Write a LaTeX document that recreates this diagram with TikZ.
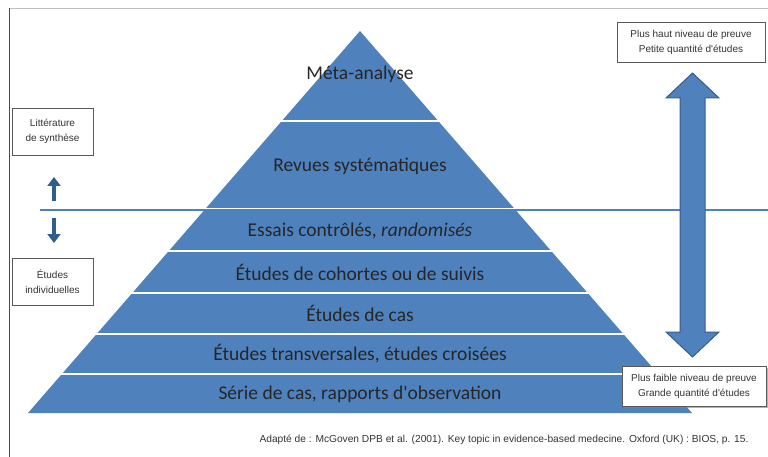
\documentclass[tikz,border=0pt]{standalone}
\usepackage{fontspec}
\setmainfont{Carlito}[Ligatures=TeXOff]
\newfontfamily\arialfont{Liberation Sans}
\usetikzlibrary{arrows.meta,shadows}

\definecolor{pyrblue}{HTML}{4F81BD}
\definecolor{pyredge}{HTML}{385D8A}
\definecolor{darkarrow}{HTML}{2F5D8C}
\definecolor{txtgray}{HTML}{333333}

\tikzset{
  layer/.style={font=\fontsize{19.5}{22}\selectfont, text=black!85},
  sidebox/.style={draw=black!65, line width=0.6pt, fill=white, align=center,
    font=\arialfont\fontsize{10}{15}\selectfont, text=txtgray, inner sep=2pt},
  gap/.style={white, line width=2.5pt}
}

\begin{document}
\begin{tikzpicture}[x=1pt,y=-1pt]
\useasboundingbox (0,0) rectangle (768,457);

% frame
\draw[black!25, line width=0.8pt] (9,8) -- (768,8);
\draw[black!70, line width=1pt] (9,8) -- (9,457);

% pyramid
\coordinate (apex) at (360,31);
\coordinate (baseL) at (28,413);
\coordinate (baseR) at (692,413);
\fill[pyrblue] (apex) -- (baseL) -- (baseR) -- cycle;
\foreach \y in {121,251,293,334,374}
  \draw[gap] (20,\y) -- (700,\y);
\draw[gap, line width=3pt] (160,210) -- (560,210);
\draw[pyrblue, line width=1.2pt] (40,210) -- (768,210);

\node[layer] (meta)  at (360,74)  {Méta-analyse};
\node[layer] (revue) at (360,166) {Revues systématiques};
\node[layer] (essai) at (360,231) {Essais contrôlés, \textit{randomisés}};
\node[layer] (coh)   at (360,272) {Études de cohortes ou de suivis};
\node[layer] (cas)   at (360,313) {Études de cas};
\node[layer] (trans) at (360,354) {Études transversales, études croisées};
\node[layer] (serie) at (360,394) {Série de cas, rapports d'observation};

% left side
\node[sidebox, minimum width=81pt, minimum height=47pt] (synth) at (52.5,131.5)
  {Littérature\\de synthèse};
\node[sidebox, minimum width=81pt, minimum height=47pt] (indiv) at (52.5,281.5)
  {Études\\individuelles};
\coordinate (upS) at (54,201);
\coordinate (upE) at (54,177);
\coordinate (dnS) at (54,218);
\coordinate (dnE) at (54,243);
\draw[darkarrow, line width=4.5pt, -{Triangle[width=13pt,length=9pt]}] (upS) -- (upE);
\draw[darkarrow, line width=4.5pt, -{Triangle[width=13pt,length=9pt]}] (dnS) -- (dnE);

% right double arrow
\draw[pyredge, fill=pyrblue, line width=1pt]
  (692.5,73) -- (719,98) -- (705,98) -- (705,332) -- (719,332)
  -- (692.5,357) -- (666,332) -- (680,332) -- (680,98) -- (666,98) -- cycle;

\node[sidebox, minimum width=148pt, minimum height=40pt] (haut) at (691,42)
  {Plus haut niveau de preuve\\Petite quantité d'études};
\node[sidebox, minimum width=144pt, minimum height=40pt,
  drop shadow={shadow xshift=1.5pt, shadow yshift=-1.5pt, opacity=0.6}] (faible) at (694,386)
  {Plus faible niveau de preuve\\Grande quantité d'études};

% source
\node[font=\arialfont\fontsize{10.2}{12}\selectfont, text=txtgray, anchor=east] (src) at (752,440)
  {Adapté de : McGoven DPB et al. (2001). Key topic in evidence-based medecine. Oxford (UK) : BIOS, p. 15.};
\end{tikzpicture}
\end{document}
